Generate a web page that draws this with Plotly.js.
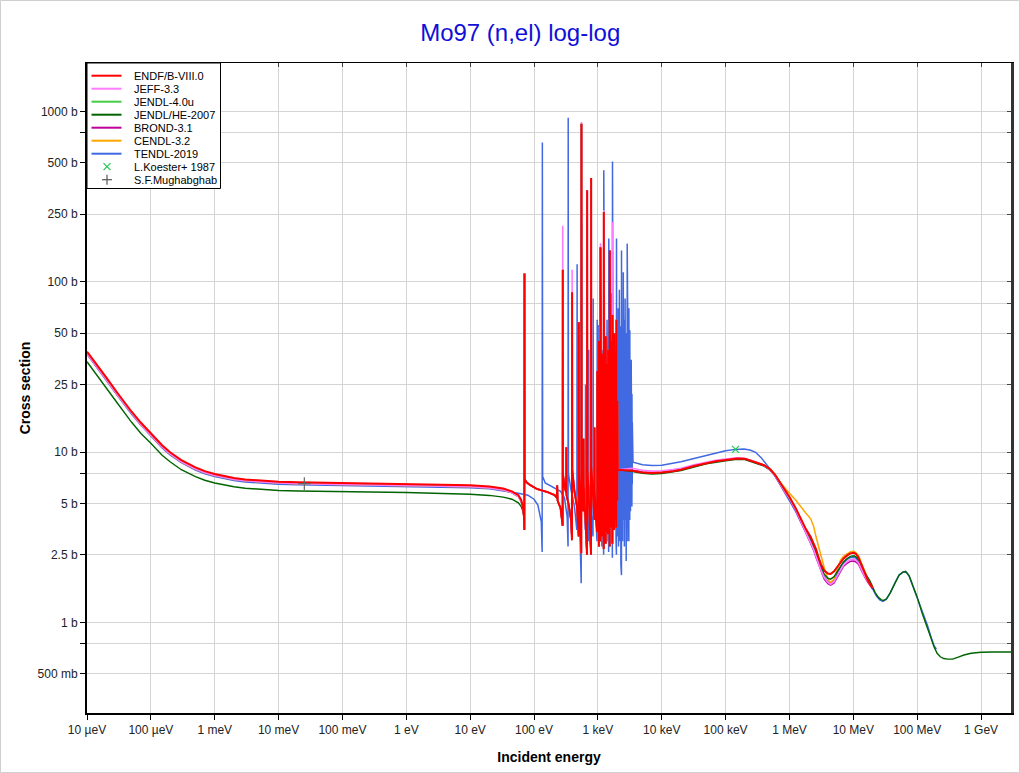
<!DOCTYPE html>
<html>
<head>
<meta charset="utf-8">
<script src="https://cdn.plot.ly/plotly-3.0.1.min.js"></script>
<style>html,body{margin:0;padding:0;background:#fff}#chart{width:1020px;height:773px}</style>
</head>
<body>
<div id="chart"></div>
<script>
// ---------------- DATA (E in eV, cross section in barns) ----------------
const xTickVals = [1e-5,1e-4,1e-3,1e-2,1e-1,1,10,100,1e3,1e4,1e5,1e6,1e7,1e8,1e9];
const xTickText = ['10 µeV','100 µeV','1 meV','10 meV','100 meV','1 eV','10 eV','100 eV','1 keV','10 keV','100 keV','1 MeV','10 MeV','100 MeV','1 GeV'];
const yTickVals = [0.5,0.75,1,2.5,5,7.5,10,25,50,75,100,250,500,750,1000];
const yTickText = ['500 mb','','1 b','2.5 b','5 b','','10 b','25 b','50 b','','100 b','250 b','500 b','','1000 b'];

const libNames = ['ENDF/B-VIII.0','JEFF-3.3','JENDL-4.0u','JENDL/HE-2007','BROND-3.1','CENDL-3.2','TENDL-2019'];
const expNames = ['L.Koester+ 1987','S.F.Mughabghab'];

// thermal / low-energy region
const loE    = [1e-5,1.5e-5,2e-5,3e-5,5e-5,7e-5,1e-4,1.5e-4,2e-4,3e-4,5e-4,7e-4,1e-3,1.5e-3,2e-3,3e-3,5e-3,1e-2,2e-2,5e-2,0.1,1,10,20,33,45,57,63,67];
const loENDF = [39,32,27.5,22.3,17.3,14.9,12.9,11.0,10.0,9.0,8.15,7.75,7.45,7.2,7.07,6.93,6.82,6.72,6.66,6.62,6.6,6.55,6.4,6.3,6.12,5.9,5.6,5.25,4.8];
const loJEFF = [38,31.2,26.8,21.7,16.9,14.5,12.6,10.75,9.78,8.8,7.97,7.58,7.3,7.05,6.93,6.8,6.7,6.6,6.54,6.5,6.48,6.43,6.28,6.18,6.0,5.8,5.5,5.15,4.7];
const loHE   = [34,27.8,24,19.4,15.0,12.9,11.3,9.6,8.8,7.9,7.2,6.85,6.6,6.38,6.27,6.15,6.05,5.97,5.92,5.9,5.88,5.8,5.67,5.58,5.45,5.3,5.05,4.8,4.5];
const loTENDL = [[1e-5,37.6],[1.5e-5,30.9],[2e-5,26.5],[3e-5,21.5],[5e-5,16.7],[7e-5,14.4],[1e-4,12.45],[1.5e-4,10.6],[2e-4,9.65],[3e-4,8.7],[5e-4,7.87],[7e-4,7.48],[1e-3,7.2],[1.5e-3,6.95],[2e-3,6.83],[3e-3,6.7],[5e-3,6.6],[1e-2,6.5],[2e-2,6.45],[5e-2,6.41],[0.1,6.38],[1,6.34],[10,6.2],[20,6.1],[33,5.95],[45,5.85],[57,5.75],[80,5.6],[100,5.3],[115,4.9],[125,4.3]];

// resolved resonance region, ENDF-like evaluations [E, sigma]
const resENDF = [
 [69.5,4.2],[70.6,3.5],[70.9,112],[71.2,7.0],[75,6.7],[85,6.45],[110,6.1],[160,5.85],[210,5.6],
 [228,5.4],[231,6.4],[234,5.2],[260,4.7],[275,4.1],[280.5,3.7],[281.5,118],[283,7.5],[300,6.3],
 [318,5.8],[321,10.7],[323,5.6],[350,4.9],[380,4.0],[393,3.05],[395,87],[398,7.8],[430,5.9],
 [470,4.8],[495,3.5],[500,3.2],[502,58],[505,7.5],[520,5.4],[540,3.5],[550,2.55],[553,850],[556,8.5],
 [585,6.0],[592,4.5],[595,12],[598,6.5],[640,4.0],[675,2.5],[680,346],[684,8.0],[720,5.5],[760,3.5],
 [780,2.5],[785,408],[789,8.2],[830,6.0],[870,4.5],[882,4.0],[885,14],[888,6.0],[930,4.2],[965,3.4],
 [975,3.4],[980,30],[996,4.6],[1000,18],[1016,3.9],[1020,26],[1036,2.8],[1040,45],[1054,4.8],[1058,20],
 [1074,4.0],[1078,34],[1094,3.0],[1098,160],[1114,5.0],[1118,24],[1134,4.3],[1138,22],[1154,3.6],[1158,30],
 [1176,3.2],[1180,38],[1196,5.2],[1200,19],[1214,4.4],[1218,27],[1232,2.7],[1237,258],[1255,4.6],[1260,32],
 [1278,3.8],[1283,25],[1301,5.3],[1306,21],[1325,2.9],[1330,48],[1349,4.5],[1354,26],[1373,4.0],[1378,33],
 [1395,3.4],[1400,28],[1415,5.0],[1420,22],[1440,3.3],[1445,40],[1465,4.6],[1470,30],[1490,4.2],[1495,24],
 [1515,5.1],[1520,35],[1530,2.8],[1536,153],[1555,4.4],[1560,26],[1580,3.6],[1585,45],[1605,5.2],[1610,22],
 [1630,3.9],[1635,28],[1655,4.8],[1660,33],[1687,2.9],[1693,64],[1715,4.7],[1720,24],[1745,4.1],[1750,35],
 [1775,5.3],[1780,27],[1805,3.5],[1810,50],[1835,5.5],[1840,22],[1865,4.3],[1870,30],[1895,4.0],[1900,38],
 [1925,5.6],[1930,20],[1951,3.6],[1957,60],[1985,5.8],[1990,18],[2015,5.2],[2020,20],[2050,7.9]
];
// JEFF-3.3 peaks that rise above ENDF/B-VIII.0
const jeffPeakE = [281.5,395,553,1098,1237,1693];
const jeffPeakS = [214,118,870,169,265,225];

// TENDL-2019 resonance region [E, sigma]
const resTENDL = [
 [130,3.9],[134,2.6],[135,660],[136.5,7.2],[150,6.6],[200,6.2],[260,5.9],[300,5.4],[330,4.2],[341,2.8],[343,923],
 [346,7.5],[380,6.0],[430,4.8],[468,3.5],[473,127],[477,7.2],[510,5.0],[548,1.7],[553,218],[557,8.0],[600,5.5],
 [636,3.5],[640,25],[645,6.0],[700,4.5],[716,3.0],[720,40],[725,6.5],[800,4.0],[838,3.2],[844,80],[848,7.0],
 [900,5.0],[970,3.0],[975,60],[980,6.0],[1004,3.5],[1010,56],[1016,6.0],[1064,3.5],[1070,25],[1154,2.8],[1160,40],
 [1230,2.5],[1237,453],[1304,3.5],[1310,30],[1383,3.0],[1390,60],[1475,2.6],[1482,180],[1544,3.5],[1550,35],
 [1607,3.0],[1614,86],[1686,2.4],[1693,510],[1754,3.5],[1760,40],[1812,4.5],[1820,22],[1850,3.8],[1855,30],
 [1872,5.0],[1880,45],[1900,4.2],[1905,18],[1925,3.0],[1930,25],[1950,2.5],[1957,180],
 [1982,4.5],[1988,20],[2015,3.2],[2020,35],[2045,5.0],[2050,16],[2075,4.0],[2080,70],[2105,2.8],[2110,24],
 [2135,5.2],[2140,18],[2165,3.5],[2170,90],[2195,4.6],[2200,20],[2225,3.0],[2230,28],[2258,5.0],[2262,55],
 [2290,2.2],[2295,17],[2318,4.4],[2322,24],[2340,1.9],[2345,153],[2375,5.0],[2380,19],[2405,4.0],[2410,45],
 [2440,3.0],[2445,22],[2470,5.4],[2475,17],[2495,3.5],[2500,114],[2530,4.5],[2535,21],[2565,4.0],[2570,60],
 [2600,2.8],[2605,19],[2635,5.2],[2640,28],[2665,3.5],[2670,80],[2700,4.8],[2705,18],[2735,4.0],[2740,35],
 [2775,2.3],[2780,22],[2810,5.5],[2815,50],[2845,4.2],[2850,17],[2873,3.0],[2878,168],[2910,5.0],[2915,24],
 [2945,4.0],[2950,45],[2985,5.5],[2990,19],[3020,3.5],[3025,30],[3055,3.0],[3060,70],[3095,5.6],[3100,18],
 [3130,4.2],[3135,28],[3158,4.0],[3163,52],[3200,5.5],[3205,20],[3240,4.5],[3245,25],[3280,6.0],[3285,16],
 [3320,5.0],[3325,35],[3365,5.8],[3370,18],[3410,4.8],[3415,22],[3455,6.5],[3460,15]
];

// unresolved / fast region
const hiE     = [3500,5000,7000,1e4,1.5e4,2e4,3.2e4,5e4,7e4,1e5,1.5e5,2e5,2.95e5,4e5,5e5,6e5,7.3e5,8.5e5,1e6,1.25e6,1.5e6,1.8e6,2.15e6,2.4e6,2.6e6,2.85e6,3.08e6,3.5e6,4e6,4.4e6,5e6,5.6e6,6.3e6,7e6,8e6,9e6,1.02e7,1.1e7,1.2e7,1.36e7,1.5e7,1.7e7,1.87e7,2e7];
const hiENDF  = [7.8,7.62,7.55,7.6,7.75,7.9,8.3,8.65,8.85,9.0,9.2,9.15,8.75,8.4,7.95,7.35,6.55,6.0,5.47,4.7,4.07,3.55,3.18,2.9,2.7,2.42,2.22,2.02,1.94,1.93,2.0,2.12,2.25,2.37,2.48,2.55,2.57,2.53,2.42,2.14,1.95,1.76,1.66,1.6];
const hiJEFF  = [8.05,7.85,7.75,7.78,7.92,8.05,8.45,8.8,8.98,9.12,9.28,9.2,8.8,8.35,7.88,7.25,6.4,5.85,5.35,4.6,3.95,3.4,2.98,2.68,2.45,2.22,2.05,1.84,1.72,1.68,1.74,1.88,2.05,2.17,2.28,2.34,2.35,2.32,2.25,2.02,1.88,1.74,1.65,1.6];
const hiBROND = [7.85,7.66,7.58,7.62,7.77,7.92,8.32,8.67,8.87,9.02,9.2,9.15,8.75,8.35,7.88,7.25,6.4,5.85,5.35,4.58,3.93,3.38,2.95,2.65,2.42,2.2,2.02,1.8,1.69,1.66,1.71,1.85,2.03,2.14,2.23,2.29,2.3,2.27,2.2,1.98,1.86,1.72,1.63,1.58];
const hiCENDL = [7.8,7.62,7.55,7.6,7.75,7.9,8.3,8.65,8.85,9.0,9.2,9.15,8.75,8.4,7.95,7.35,6.6,6.15,5.75,5.25,4.77,4.4,4.07,3.65,3.2,2.8,2.54,2.1,1.8,1.72,1.8,2.05,2.33,2.45,2.55,2.61,2.62,2.57,2.48,2.22,2.02,1.8,1.7,1.64];
const hiTENDL = [[3550,8.75],[5000,8.45],[7000,8.35],[1e4,8.4],[1.5e4,8.58],[2e4,8.8],[3.2e4,9.2],[5e4,9.6],[7e4,9.9],[1e5,10.2],[1.43e5,10.4],[1.94e5,10.45],[2.4e5,10.3],[2.95e5,10.0],[3.6e5,9.3],[4.5e5,8.4],[5.5e5,7.6],[6.5e5,6.85],[8e5,6.0],[1e6,5.2],[1.25e6,4.5],[1.5e6,3.9],[1.8e6,3.4],[2.15e6,3.0],[2.6e6,2.5],[3.08e6,2.08],[3.5e6,1.86],[4e6,1.74],[4.4e6,1.71],[5e6,1.78],[5.6e6,1.95],[6.3e6,2.12],[7e6,2.24],[8e6,2.35],[9e6,2.41],[1.02e7,2.42],[1.1e7,2.39],[1.2e7,2.3],[1.36e7,2.06],[1.5e7,1.9],[1.7e7,1.75],[1.87e7,1.66],[2.05e7,1.55],[2.3e7,1.43],[2.6e7,1.36],[2.9e7,1.33],[3.3e7,1.37],[3.8e7,1.5],[4.5e7,1.72],[5.2e7,1.9],[6e7,1.98],[6.8e7,1.97],[7.5e7,1.87],[8.5e7,1.65],[1e8,1.42],[1.2e8,1.15],[1.45e8,0.96],[1.65e8,0.82],[1.84e8,0.73],[2e8,0.7]];
const hiHE = [[3500,7.7],[5000,7.52],[7000,7.45],[1e4,7.5],[2e4,7.8],[3.2e4,8.2],[5e4,8.55],[1e5,8.9],[1.5e5,9.1],[2e5,9.05],[2.95e5,8.65],[4e5,8.3],[5e5,7.85],[6e5,7.25],[7.3e5,6.45],[8.5e5,5.9],[1e6,5.4],[1.25e6,4.65],[1.5e6,4.0],[1.8e6,3.5],[2.15e6,3.1],[2.6e6,2.6],[3.08e6,2.15],[3.5e6,1.92],[4e6,1.82],[4.4e6,1.8],[5e6,1.86],[5.6e6,2.0],[6.3e6,2.15],[7e6,2.27],[8e6,2.38],[9e6,2.45],[1.02e7,2.47],[1.1e7,2.43],[1.2e7,2.35],[1.36e7,2.12],[1.5e7,1.98],[1.65e7,1.86],[1.8e7,1.77],[2e7,1.62],[2.2e7,1.5],[2.45e7,1.41],[2.75e7,1.36],[3e7,1.35],[3.3e7,1.38],[3.8e7,1.5],[4.5e7,1.72],[5.2e7,1.9],[6e7,1.98],[6.6e7,2.0],[7.5e7,1.88],[8.5e7,1.66],[1e8,1.41],[1.2e8,1.13],[1.45e8,0.94],[1.65e8,0.81],[1.84e8,0.72],[2.05e8,0.66],[2.3e8,0.63],[2.6e8,0.615],[3e8,0.61],[3.57e8,0.61],[4.3e8,0.625],[5.4e8,0.645],[7e8,0.66],[1e9,0.67],[1.5e9,0.672],[3e9,0.672]];

// experimental points
const koesterE = [1.43e5], koesterS = [10.4];
const mughE = [0.0253], mughS = [6.55];

// ---------------- BUILD ----------------
const zip = (a, b) => a.map((v, i) => [v, b[i]]);
function series(...parts) {
  const x = [], y = [];
  parts.forEach(p => p.forEach(([e, s]) => { x.push(e); y.push(s); }));
  return {x, y};
}
const resJEFF = resENDF.map(([e, s]) => { const i = jeffPeakE.indexOf(e); return [e, i >= 0 ? jeffPeakS[i] : s]; });

const data = {
  'ENDF/B-VIII.0': series(zip(loE, loENDF), resENDF, zip(hiE, hiENDF)),
  'JEFF-3.3':      series(zip(loE, loJEFF), resJEFF, zip(hiE, hiJEFF)),
  'JENDL-4.0u':    series(zip(loE, loJEFF), resENDF, zip(hiE, hiENDF)),
  'JENDL/HE-2007': series(zip(loE, loHE), resENDF, hiHE),
  'BROND-3.1':     series(zip(loE, loJEFF), resENDF, zip(hiE, hiBROND)),
  'CENDL-3.2':     series(zip(loE, loJEFF), resENDF, zip(hiE, hiCENDL)),
  'TENDL-2019':    series(loTENDL, resTENDL, hiTENDL)
};

const style = {
  'ENDF/B-VIII.0': {color:'#ff0000', width:2},
  'JEFF-3.3':      {color:'#ff7cff', width:1.6},
  'JENDL-4.0u':    {color:'#44cc44', width:1.5},
  'JENDL/HE-2007': {color:'#006400', width:1.4},
  'BROND-3.1':     {color:'#c0009c', width:1.5},
  'CENDL-3.2':     {color:'#ffa500', width:1.5},
  'TENDL-2019':    {color:'#4169e1', width:1.5}
};
const drawOrder = ['TENDL-2019','CENDL-3.2','BROND-3.1','JENDL-4.0u','JENDL/HE-2007','JEFF-3.3','ENDF/B-VIII.0'];

const traces = drawOrder.map(n => ({
  type:'scatter', mode:'lines', name:n, x:data[n].x, y:data[n].y,
  line:{color:style[n].color, width:style[n].width, shape:'linear'}, showlegend:false, hoverinfo:'skip'
}));
traces.push({type:'scatter', mode:'markers', name:expNames[0], x:koesterE, y:koesterS,
  marker:{symbol:'x-thin', size:7, line:{color:'#22c855', width:1.3}}, showlegend:false, hoverinfo:'skip'});
traces.push({type:'scatter', mode:'markers', name:expNames[1], x:mughE, y:mughS,
  marker:{symbol:'cross-thin', size:9, line:{color:'#666', width:1.2}}, showlegend:false, hoverinfo:'skip'});
traces.push({type:'scatter', mode:'markers', x:[1], y:[1], xaxis:'x2', yaxis:'y2',
  marker:{opacity:0}, showlegend:false, hoverinfo:'skip'});

// ---------------- LAYOUT ----------------
const ML = 87, MR = 9, MT = 63, MB = 60, W = 1020, H = 773;
const PW = W - ML - MR, PH = H - MT - MB;
const px = v => (v - ML) / PW;
const py = v => (H - MB - v) / PH;
const xRange = [-5, 9.469], yRange = [-0.531, 3.286];

const shapes = [];
const annotations = [];
// outer frame
shapes.push({type:'rect', xref:'paper', yref:'paper', x0:px(0.5), x1:px(1019.5), y0:py(772.5), y1:py(0.5),
  line:{color:'#cfcfcf', width:1}, fillcolor:'rgba(0,0,0,0)'});
// legend box
shapes.push({type:'rect', xref:'paper', yref:'paper', x0:px(87), x1:px(220.5), y0:py(188.5), y1:py(63),
  line:{color:'#000', width:1}, fillcolor:'#fff'});
libNames.forEach((n, i) => {
  const yy = 75.7 + 13 * i;
  shapes.push({type:'line', xref:'paper', yref:'paper', x0:px(91.5), x1:px(121.5), y0:py(yy), y1:py(yy),
    line:{color:style[n].color, width:2}});
  annotations.push({xref:'paper', yref:'paper', x:px(132), y:py(yy), xanchor:'left', yanchor:'middle',
    text:n, showarrow:false, font:{size:11, color:'#000'}});
});
// legend markers
const kY = 75.7 + 13 * 7, mY = 75.7 + 13 * 8, mX = 107;
shapes.push({type:'line', xref:'paper', yref:'paper', x0:px(mX-3.5), x1:px(mX+3.5), y0:py(kY-3.5), y1:py(kY+3.5), line:{color:'#22c855', width:1.2}});
shapes.push({type:'line', xref:'paper', yref:'paper', x0:px(mX-3.5), x1:px(mX+3.5), y0:py(kY+3.5), y1:py(kY-3.5), line:{color:'#22c855', width:1.2}});
shapes.push({type:'line', xref:'paper', yref:'paper', x0:px(mX-5), x1:px(mX+5), y0:py(mY), y1:py(mY), line:{color:'#555', width:1.2}});
shapes.push({type:'line', xref:'paper', yref:'paper', x0:px(mX), x1:px(mX), y0:py(mY-5), y1:py(mY+5), line:{color:'#555', width:1.2}});
expNames.forEach((n, i) => {
  annotations.push({xref:'paper', yref:'paper', x:px(132), y:py(75.7 + 13 * (7 + i)), xanchor:'left', yanchor:'middle',
    text:n, showarrow:false, font:{size:11, color:'#000'}});
});

const layout = {
  width:W, height:H,
  margin:{l:ML, r:MR, t:MT, b:MB, pad:0},
  paper_bgcolor:'#fff', plot_bgcolor:'#fff',
  font:{family:'"Liberation Sans", Arial, sans-serif', size:12, color:'#222'},
  title:{text:'Mo97 (n,el) log-log', x:0.51, xanchor:'center', y:1 - 33/H, yanchor:'middle',
    font:{size:24, color:'#1010d8'}},
  showlegend:false,
  xaxis:{type:'log', range:xRange, tickvals:xTickVals, ticktext:xTickText, automargin:false,
    showgrid:true, gridcolor:'#d5d5d5', gridwidth:1, zeroline:false,
    showline:true, linecolor:'#000', linewidth:1.5, mirror:false,
    ticks:'outside', ticklen:5, tickcolor:'#000', tickfont:{size:12, color:'#222'},
    title:{text:'Incident energy', standoff:16, font:{size:14, color:'#000', weight:'bold'}}},
  yaxis:{type:'log', range:yRange, tickvals:yTickVals, ticktext:yTickText, automargin:false,
    showgrid:true, gridcolor:'#d5d5d5', gridwidth:1, zeroline:false,
    showline:true, linecolor:'#000', linewidth:2, mirror:false,
    ticks:'outside', ticklen:5, tickcolor:'#000', tickfont:{size:12, color:'#222'},
    title:{text:'Cross section', standoff:4, font:{size:14, color:'#000', weight:'bold'}}},
  xaxis2:{type:'log', overlaying:'x', side:'top', range:xRange, tickvals:xTickVals, showticklabels:false,
    showgrid:false, zeroline:false, showline:true, linecolor:'#000', linewidth:1, ticks:'inside', ticklen:4, tickcolor:'#444', automargin:false},
  yaxis2:{type:'log', overlaying:'y', side:'right', range:yRange, tickvals:yTickVals, showticklabels:false,
    showgrid:false, zeroline:false, showline:true, linecolor:'#333', linewidth:2.5, ticks:'inside', ticklen:4, tickcolor:'#444', automargin:false},
  shapes:shapes, annotations:annotations
};

Plotly.newPlot('chart', traces, layout, {staticPlot:true, displayModeBar:false});
</script>
</body>
</html>
